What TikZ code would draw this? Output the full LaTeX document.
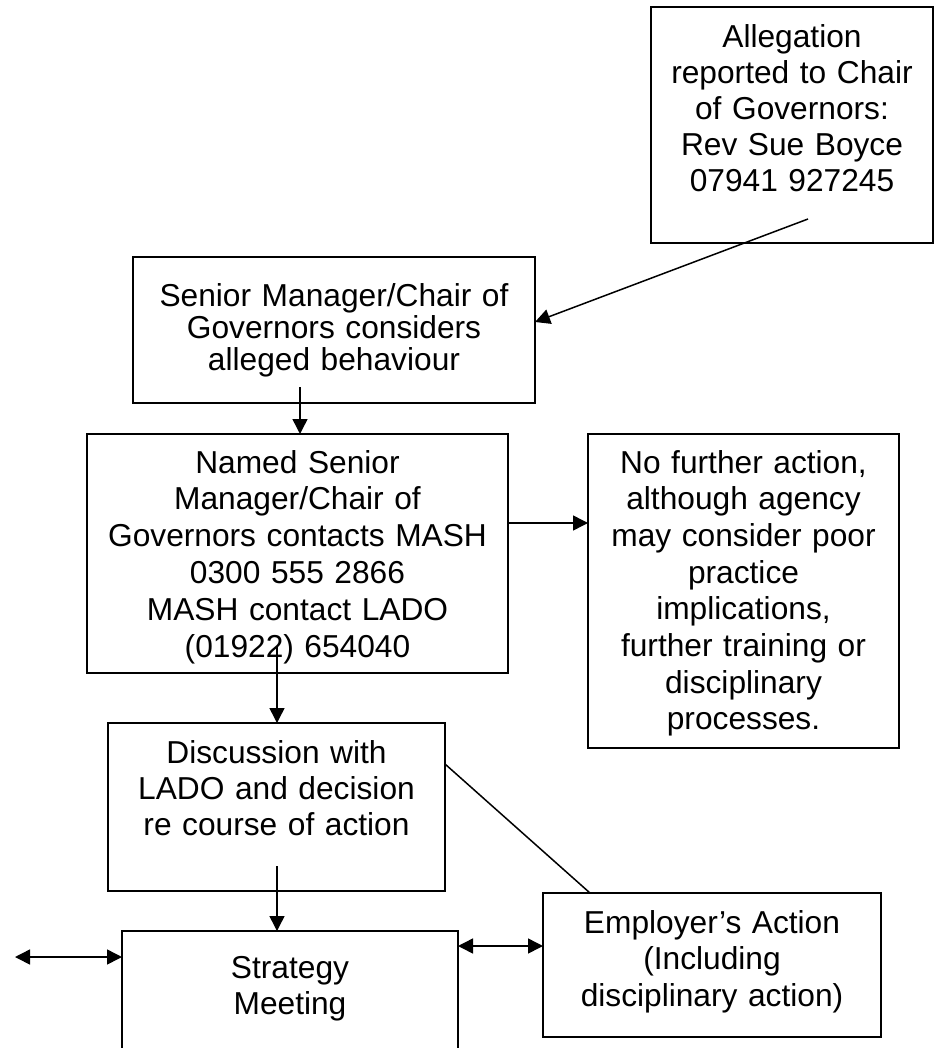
\documentclass[tikz,border=0pt]{standalone}
\usepackage{fontspec}
\setmainfont{Liberation Sans}
\usetikzlibrary{arrows.meta,calc}
\begin{document}
\begin{tikzpicture}[x=1pt,y=-1pt,
  box/.style={draw, line width=1.5pt, rectangle, inner sep=0pt, outer sep=0pt},
  txt/.style={inner sep=0pt, outer sep=0pt, align=center, anchor=base},
  fs/.style={font=\fontsize{31.7}{#1}\selectfont},
  conn/.style={line width=1.5pt},
  arr/.style={conn, -{Triangle[length=15pt,width=15pt]}},
  darr/.style={conn, {Triangle[length=15pt,width=15pt]}-{Triangle[length=15pt,width=15pt]}}
]
\useasboundingbox (0,0) rectangle (935,1048);
\clip (0,0) rectangle (935,1048);

% boxes
\node[box, minimum width=282pt, minimum height=236pt] (alg) at (792,125) {};
\node[box, minimum width=402pt, minimum height=146pt] (sen) at (334,330) {};
\node[box, minimum width=421pt, minimum height=239pt] (nam) at (297.5,553.5) {};
\node[box, minimum width=311pt, minimum height=314pt] (nfa) at (743.5,591) {};
\node[box, minimum width=337pt, minimum height=168pt] (dis) at (276.5,807) {};
\node[box, minimum width=336pt, minimum height=139pt] (str) at (290,1000.5) {};
\node[box, minimum width=338pt, minimum height=144pt] (emp) at (712,965) {};

% texts
\node[txt, fs=35.8, text width=270pt] (talg) at (792,48)
  {Allegation\\reported to Chair\\of Governors:\\Rev Sue Boyce\\07941 927245};
\node[txt, fs=32, text width=390pt] (tsen) at (334,306)
  {Senior Manager/Chair of\\Governors considers\\alleged behaviour};
\node[txt, fs=36.8, text width=410pt] (tnam) at (297.5,473)
  {Named Senior\\Manager/Chair of\\Governors contacts MASH\\0300 555 2866\\MASH contact LADO\\(01922) 654040};
\node[txt, fs=36.7, text width=300pt] (tnfa) at (743.5,473)
  {No further action,\\although agency\\may consider poor\\practice\\implications,\\further training or\\disciplinary\\processes.};
\node[txt, fs=36, text width=325pt] (tdis) at (276.5,763)
  {Discussion with\\LADO and decision\\re course of action};
\node[txt, fs=36.7, text width=325pt] (tstr) at (290,978)
  {Strategy\\Meeting};
\node[txt, fs=36.7, text width=325pt] (temp) at (712,933)
  {Employer’s Action\\(Including\\disciplinary action)};

% connector end points
\coordinate (p1) at ($(alg.south)+(16,-24)$);
\coordinate (p2) at ($(sen.south)+(-34,-16)$);
\coordinate (p3) at ($(nam.east)+(0,-30.5)$);
\coordinate (p4) at ($(nam.south)+(-20.5,-26)$);
\coordinate (p5) at ($(dis.south)+(0.5,-25)$);
\coordinate (p6) at ($(dis.east)+(0,-43)$);
\coordinate (p7) at ($(emp.north)+(-122,0)$);
\coordinate (p8) at ($(str.north east)+(0,15)$);
\coordinate (p9) at ($(str.north west)+(0,26)$);
\coordinate (lft) at (15,957);

% connectors
\draw[arr] (p1) -- ($(sen.east)+(0,-8)$);
\draw[arr] (p2) -- (p2 |- nam.north);
\draw[arr] (p3) -- (p3 -| nfa.west);
\draw[arr] (p4) -- (p4 |- dis.north);
\draw[arr] (p5) -- (p5 |- str.north);
\draw[conn] (p6) -- (p7);
\draw[darr] (p8) -- (p8 -| emp.west);
\draw[darr] (lft) -- (p9);
\end{tikzpicture}
\end{document}
